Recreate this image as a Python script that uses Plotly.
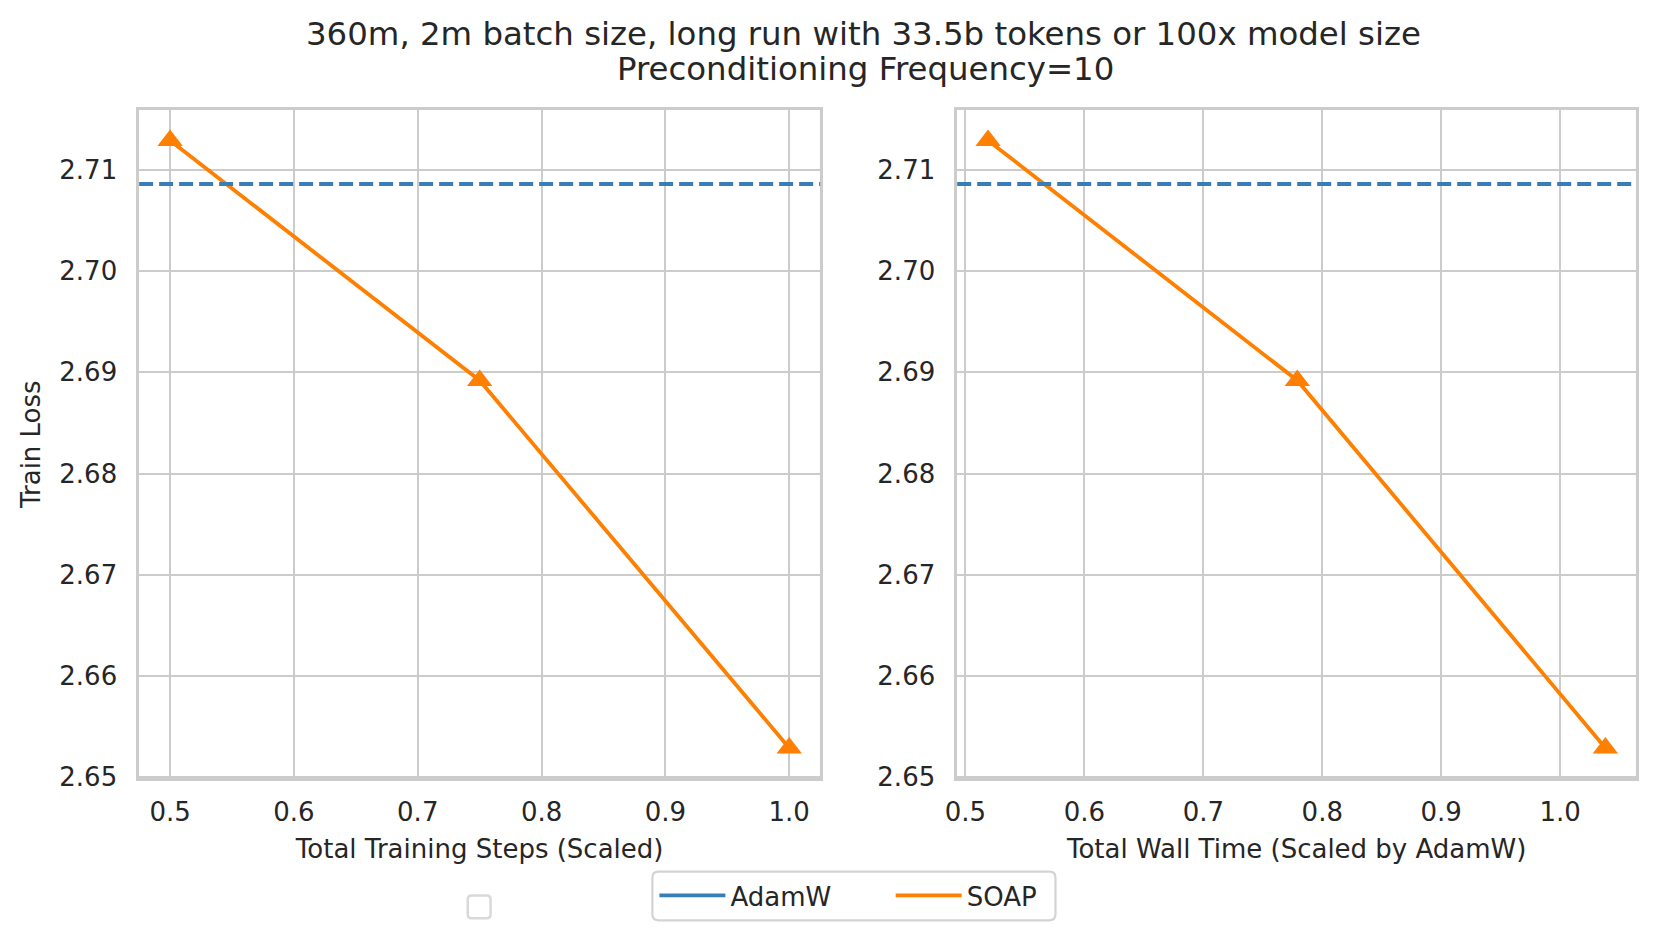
import plotly.graph_objects as go

# ---- data ----
train_steps_scaled = [0.5, 0.75, 1.0]
wall_time_scaled = [0.519, 0.779, 1.038]
soap_loss = [2.7129, 2.6892, 2.6529]
adamw_loss = 2.7086

x1_ticks = [0.5, 0.6, 0.7, 0.8, 0.9, 1.0]
x2_ticks = [0.5, 0.6, 0.7, 0.8, 0.9, 1.0]
y_ticks = [2.65, 2.66, 2.67, 2.68, 2.69, 2.70, 2.71]

title_line1 = "360m, 2m batch size, long run with 33.5b tokens or 100x model size"
title_line2 = "Preconditioning Frequency=10"
xlabel1 = "Total Training Steps (Scaled)"
xlabel2 = "Total Wall Time (Scaled by AdamW)"
ylabel = "Train Loss"

BLUE = "#377eb8"
ORANGE = "#ff7f00"
TEXT = "#262626"
GRID = "#cccccc"
FONT = "DejaVu Sans"

W, H = 1662, 942
DX = -15   # page offset compensation


def px(x):
    return (x + DX) / W


def py(y):
    return 1 - (1.0079 * y - 4.2) / H


def margin_range(vals, frac=0.05):
    lo, hi = min(vals), max(vals)
    m = (hi - lo) * frac
    return [lo - m, hi + m]


def rounded_box(x0, x1, y0, y1, r):
    return (f"M{px(x0 + r)},{py(y0)} L{px(x1 - r)},{py(y0)} Q{px(x1)},{py(y0)} {px(x1)},{py(y0 + r)} "
            f"L{px(x1)},{py(y1 - r)} Q{px(x1)},{py(y1)} {px(x1 - r)},{py(y1)} "
            f"L{px(x0 + r)},{py(y1)} Q{px(x0)},{py(y1)} {px(x0)},{py(y1 - r)} "
            f"L{px(x0)},{py(y0 + r)} Q{px(x0)},{py(y0)} {px(x0 + r)},{py(y0)} Z")


yr = margin_range(soap_loss + [adamw_loss])

fig = go.Figure()

for xs, xa, ya in [(train_steps_scaled, "x", "y"), (wall_time_scaled, "x2", "y2")]:
    fig.add_trace(go.Scatter(
        x=xs, y=soap_loss, mode="lines+markers", xaxis=xa, yaxis=ya,
        line=dict(color=ORANGE, width=3.8),
        marker=dict(symbol="triangle-up", size=22, color=ORANGE),
        showlegend=False, hoverinfo="x+y"))

# AdamW baseline as horizontal lines across each panel
for xref, yref in [("x domain", "y"), ("x2 domain", "y2")]:
    fig.add_shape(type="line", xref=xref, yref=yref, x0=0, x1=1,
                  y0=adamw_loss, y1=adamw_loss, layer="above",
                  line=dict(color=BLUE, width=3.8, dash="14px,6px"))

# legend-only entries (plain line handles)
fig.add_trace(go.Scatter(x=[None], y=[None], mode="lines", name="AdamW",
                         line=dict(color=BLUE, width=3.8), legend="legend"))
fig.add_trace(go.Scatter(x=[None], y=[None], mode="lines", name="SOAP",
                         line=dict(color=ORANGE, width=3.8), legend="legend2"))

axis_common = dict(
    showgrid=True, gridcolor=GRID, gridwidth=2,
    showline=True, linecolor=GRID, linewidth=2.5, mirror=True,
    zeroline=False, ticks="", tickfont=dict(size=26, color=TEXT, family=FONT),
)

y_dom = [py(780), py(107)]
legend_common = dict(orientation="h", xanchor="left", yanchor="middle",
                     borderwidth=0, bgcolor="rgba(0,0,0,0)",
                     font=dict(size=26, color=TEXT, family=FONT), itemwidth=66)

fig.update_layout(
    width=W, height=H, autosize=False,
    margin=dict(l=0, r=0, t=0, b=0),
    paper_bgcolor="white", plot_bgcolor="white",
    font=dict(family=FONT, color=TEXT, size=26),
    xaxis=dict(domain=[px(135), px(821)], range=margin_range(train_steps_scaled),
               tickvals=x1_ticks, ticktext=[f"{v:.1f}" for v in x1_ticks],
               ticklabelstandoff=9,
               title=dict(text=xlabel1, font=dict(size=26, color=TEXT), standoff=14),
               **axis_common),
    yaxis=dict(domain=y_dom, range=yr, tickvals=y_ticks,
               ticktext=[f"{v:.2f}" for v in y_ticks], ticklabelstandoff=14,
               title=dict(text=ylabel, font=dict(size=26, color=TEXT), standoff=12),
               **axis_common),
    xaxis2=dict(domain=[px(959), px(1643)], range=margin_range(wall_time_scaled),
                anchor="y2",
                tickvals=x2_ticks, ticktext=[f"{v:.1f}" for v in x2_ticks],
                ticklabelstandoff=9,
                title=dict(text=xlabel2, font=dict(size=26, color=TEXT), standoff=14),
                **axis_common),
    yaxis2=dict(domain=y_dom, range=yr, anchor="x2", tickvals=y_ticks,
                ticktext=[f"{v:.2f}" for v in y_ticks], ticklabelstandoff=14,
                **axis_common),
    legend=dict(x=px(654), y=py(898), **legend_common),
    legend2=dict(x=px(892), y=py(898), **legend_common),
    showlegend=True,
)

fig.add_annotation(text=title_line1, xref="paper", yref="paper", x=px(864.5), y=py(30),
                   xanchor="center", yanchor="middle", showarrow=False,
                   font=dict(size=32.4, color=TEXT, family=FONT))
fig.add_annotation(text=title_line2, xref="paper", yref="paper", x=px(867), y=py(66),
                   xanchor="center", yanchor="middle", showarrow=False,
                   font=dict(size=32.4, color=TEXT, family=FONT))

# legend frame (rounded) and the empty legend frame artifact
fig.add_shape(type="path", xref="paper", yref="paper", path=rounded_box(652, 1058, 874, 923, 6),
              line=dict(color="#d3d3d3", width=2.2), layer="below")
fig.add_shape(type="path", xref="paper", yref="paper", path=rounded_box(466, 489, 898, 921, 4),
              line=dict(color="#d9d9d9", width=2.5), fillcolor="white")

fig.write_html("out.html")
